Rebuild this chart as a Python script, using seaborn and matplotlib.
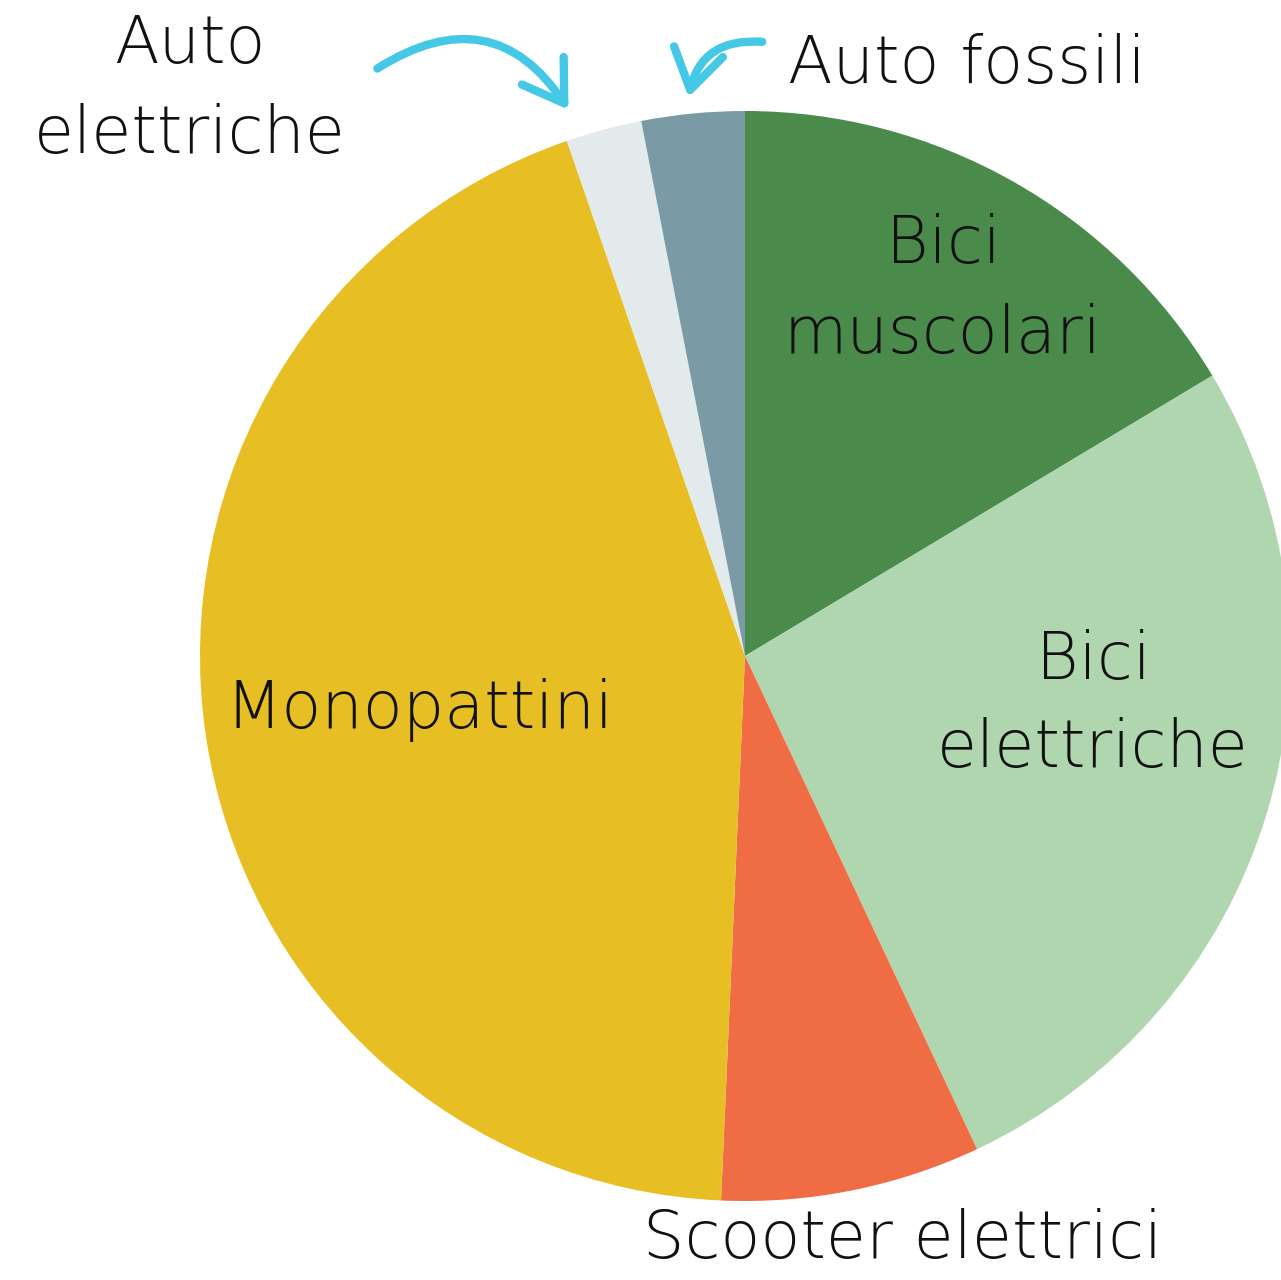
import matplotlib
matplotlib.use("Agg")
import matplotlib.pyplot as plt
import seaborn as sns
from matplotlib.patches import FancyArrowPatch

categories = ["Bici muscolari", "Bici elettriche", "Scooter elettrici", "Monopattini",
              "Auto elettriche", "Auto fossili"]
values = [16.4, 26.6, 7.7, 44.0, 2.25, 3.05]
colors = ["#4a8a4a", "#b0d6b0", "#f06c45", "#e7bf24", "#e3eaec", "#7a9ba6"]

sns.set_theme(style="white")
plt.rcParams['font.family'] = ['DejaVu Sans']

W, H = 1281, 1280
fig = plt.figure(figsize=(W / 100, H / 100), dpi=100)
ax = fig.add_axes([0, 0, 1, 1])

cx, cy, r = 745, H - 656, 545
ax.pie(values, colors=sns.color_palette(colors), startangle=90, counterclock=False,
       center=(cx, cy), radius=r, frame=True,
       wedgeprops=dict(linewidth=0))
ax.set_xlim(0, W)
ax.set_ylim(0, H)
ax.set_aspect('equal')
ax.axis('off')

tkw = dict(ha='center', va='center', color='#111111', fontweight='light')
fs = 47
ls = 1.5
ax.text(420, H - 710, "Monopattini", fontsize=fs, **tkw)
ax.text(943, H - 290, "Bici\nmuscolari", fontsize=fs, linespacing=ls, **tkw)
ax.text(1093, H - 705, "Bici\nelettriche", fontsize=fs, linespacing=ls, **tkw)
ax.text(903, H - 1240, "Scooter elettrici", fontsize=fs, **tkw)
ax.text(190, H - 90, "Auto\nelettriche", fontsize=fs, linespacing=ls, **tkw)
ax.text(967, H - 65, "Auto fossili", fontsize=fs, **tkw)

acol = "#45c8e6"
a1 = FancyArrowPatch((375, H - 70), (570, H - 112), connectionstyle="arc3,rad=-0.5",
                     arrowstyle="->,head_length=14,head_width=9", color=acol, lw=6,
                     mutation_scale=2)
a2 = FancyArrowPatch((765, H - 42), (688, H - 100), connectionstyle="arc3,rad=0.45",
                     arrowstyle="->,head_length=14,head_width=9", color=acol, lw=6,
                     mutation_scale=2)
ax.add_patch(a1)
ax.add_patch(a2)

fig.savefig("out.png", dpi=100, facecolor="white")
